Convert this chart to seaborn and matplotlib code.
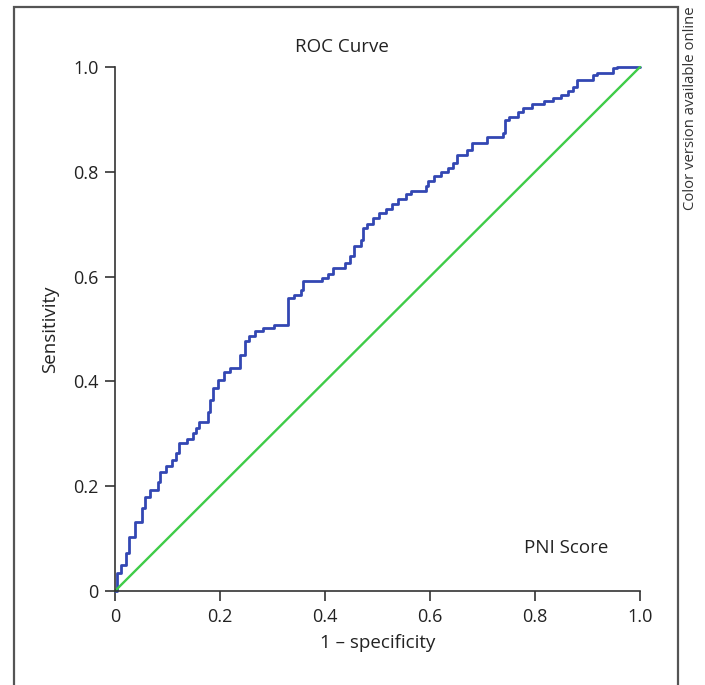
import numpy as np
import pandas as pd
import matplotlib
matplotlib.use('Agg')
import matplotlib.pyplot as plt
import seaborn as sns
from matplotlib.patches import Rectangle

# ROC curve vertices (1 - specificity, sensitivity)
fpr = [0.000, 0.004, 0.004, 0.011, 0.011, 0.021, 0.021, 0.027, 0.027, 0.038,
       0.038, 0.051, 0.051, 0.057, 0.057, 0.067, 0.067, 0.082, 0.082, 0.086,
       0.086, 0.097, 0.097, 0.109, 0.109, 0.116, 0.116, 0.122, 0.122, 0.137,
       0.137, 0.149, 0.149, 0.154, 0.154, 0.160, 0.160, 0.177, 0.177, 0.181,
       0.181, 0.187, 0.187, 0.196, 0.196, 0.208, 0.208, 0.219, 0.219, 0.238,
       0.238, 0.248, 0.248, 0.255, 0.255, 0.267, 0.267, 0.282, 0.282, 0.303,
       0.303, 0.330, 0.330, 0.341, 0.341, 0.354, 0.354, 0.358, 0.358, 0.394,
       0.394, 0.406, 0.406, 0.415, 0.415, 0.438, 0.438, 0.448, 0.448, 0.455,
       0.455, 0.469, 0.469, 0.472, 0.472, 0.480, 0.480, 0.491, 0.491, 0.503,
       0.503, 0.516, 0.516, 0.528, 0.528, 0.539, 0.539, 0.554, 0.554, 0.564,
       0.564, 0.592, 0.592, 0.596, 0.596, 0.608, 0.608, 0.621, 0.621, 0.634,
       0.634, 0.644, 0.644, 0.651, 0.651, 0.670, 0.670, 0.680, 0.680, 0.709,
       0.709, 0.739, 0.739, 0.743, 0.743, 0.750, 0.750, 0.768, 0.768, 0.777,
       0.777, 0.794, 0.794, 0.817, 0.817, 0.834, 0.834, 0.850, 0.850, 0.863,
       0.863, 0.872, 0.872, 0.880, 0.880, 0.910, 0.910, 0.918, 0.918, 0.949,
       0.949, 0.956, 0.956, 0.994, 1.000]
tpr = [0.000, 0.000, 0.034, 0.034, 0.050, 0.050, 0.073, 0.073, 0.103, 0.103,
       0.132, 0.132, 0.158, 0.158, 0.179, 0.179, 0.193, 0.193, 0.208, 0.208,
       0.227, 0.227, 0.239, 0.239, 0.250, 0.250, 0.263, 0.263, 0.282, 0.282,
       0.290, 0.290, 0.302, 0.302, 0.311, 0.311, 0.323, 0.323, 0.342, 0.342,
       0.365, 0.365, 0.387, 0.387, 0.403, 0.403, 0.418, 0.418, 0.426, 0.426,
       0.450, 0.450, 0.477, 0.477, 0.487, 0.487, 0.496, 0.496, 0.502, 0.502,
       0.508, 0.508, 0.559, 0.559, 0.565, 0.565, 0.574, 0.574, 0.592, 0.592,
       0.597, 0.597, 0.605, 0.605, 0.616, 0.616, 0.626, 0.626, 0.639, 0.639,
       0.658, 0.658, 0.670, 0.670, 0.693, 0.693, 0.700, 0.700, 0.712, 0.712,
       0.721, 0.721, 0.729, 0.729, 0.739, 0.739, 0.748, 0.748, 0.758, 0.758,
       0.763, 0.763, 0.773, 0.773, 0.782, 0.782, 0.792, 0.792, 0.800, 0.800,
       0.807, 0.807, 0.817, 0.817, 0.832, 0.832, 0.842, 0.842, 0.855, 0.855,
       0.866, 0.866, 0.874, 0.874, 0.899, 0.899, 0.905, 0.905, 0.914, 0.914,
       0.922, 0.922, 0.929, 0.929, 0.935, 0.935, 0.941, 0.941, 0.947, 0.947,
       0.954, 0.954, 0.962, 0.962, 0.975, 0.975, 0.985, 0.985, 0.989, 0.989,
       0.998, 0.998, 1.000, 1.000, 1.000]
ref_line = [0.0, 1.0]
ticks = [0.0, 0.2, 0.4, 0.6, 0.8, 1.0]
tick_labels = ['0', '0.2', '0.4', '0.6', '0.8', '1.0']

sns.set_style('white')
plt.rcParams['font.family'] = ['Open Sans', 'DejaVu Sans']

fig = plt.figure(figsize=(7.05, 6.85), dpi=100)
ax = fig.add_axes([115/705, 1 - 591/685, 525/705, 524/685])

roc = pd.DataFrame({'fpr': fpr, 'tpr': tpr})
sns.lineplot(data=roc, x='fpr', y='tpr', sort=False, estimator=None,
             color='#3347b3', linewidth=2.0, ax=ax, clip_on=False)
sns.lineplot(x=ref_line, y=ref_line, sort=False, estimator=None,
             color='#3fcc48', linewidth=1.7, ax=ax, clip_on=False)

ax.set_xlim(0, 1)
ax.set_ylim(0, 1)
ax.set_xticks(ticks)
ax.set_xticklabels(tick_labels)
ax.set_yticks(ticks)
ax.set_yticklabels(tick_labels)
ax.tick_params(axis='both', direction='out', length=7, width=1.2,
               colors='#333333', labelcolor='#222222', labelsize=13, pad=5,
               bottom=True, left=True)
for side in ['top', 'right']:
    ax.spines[side].set_visible(False)
for side in ['left', 'bottom']:
    ax.spines[side].set_color('#333333')
    ax.spines[side].set_linewidth(1.2)

ax.set_xlabel('1 – specificity', fontsize=13.5, color='#222222', labelpad=6)
ax.set_ylabel('Sensitivity', fontsize=13.5, color='#222222', labelpad=10)

fig.text(342/705, 1 - 47/685, 'ROC Curve', ha='center', va='center',
         fontsize=13.5, color='#222222')
ax.text(0.86, 0.082, 'PNI Score', ha='center', va='center',
        fontsize=13.5, color='#222222', transform=ax.transAxes)

# frame around the figure panel
fig.patches.append(Rectangle((14/705, -0.02), (678 - 14)/705, 1.02 - 7/685,
                             transform=fig.transFigure, fill=False,
                             edgecolor='#555555', linewidth=1.6))
fig.text(690/705, 1 - 6/685, 'Color version available online', rotation=90,
         ha='center', va='top', fontsize=10.7, color='#333333')

fig.savefig('out.png', dpi=100)
